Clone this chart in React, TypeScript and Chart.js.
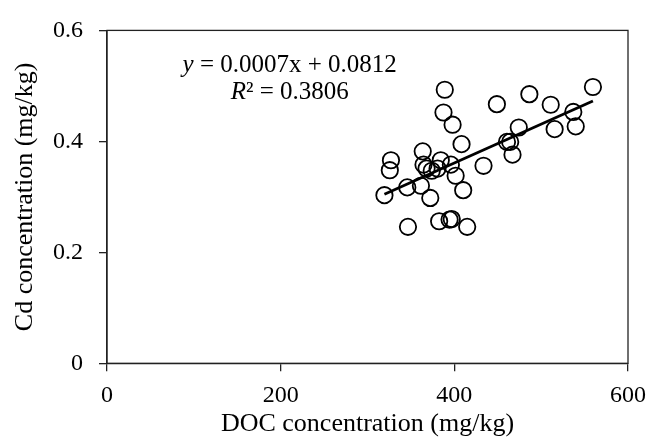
import React, { useEffect, useRef } from 'react';
import { Chart, registerables } from 'chart.js';

Chart.register(...registerables);

const docValues = [
  319.5, 325.7, 327, 345.8, 346.6, 361.5, 363.6, 364.5, 368, 372.3,
  374, 380.7, 382.5, 384.4, 387.5, 389, 394.5, 397, 396, 398,
  401.5, 408.3, 410.2, 414.8, 433.6, 449, 460.6, 464.3, 467, 474.2,
  486.4, 511, 515.5, 537, 539.8, 559.6,
];
const cdValues = [
  0.303, 0.348, 0.366, 0.317, 0.246, 0.32, 0.382, 0.358, 0.351, 0.298,
  0.347, 0.351, 0.256, 0.366, 0.452, 0.493, 0.259, 0.26, 0.358, 0.43,
  0.338, 0.395, 0.312, 0.246, 0.356, 0.467, 0.399, 0.399, 0.376, 0.425,
  0.485, 0.466, 0.422, 0.453, 0.427, 0.498,
];
const xTicks = [0, 200, 400, 600];
const yTicks = [0, 0.2, 0.4, 0.6];
const slope = 0.0007;
const intercept = 0.0812;
const rSquared = 0.3806;
const xTitle = 'DOC concentration (mg/kg)';
const yTitle = 'Cd concentration (mg/kg)';

const FONT = "'Liberation Serif', 'Times New Roman', serif";

export default function App() {
  const ref = useRef<HTMLCanvasElement | null>(null);

  useEffect(() => {
    if (!ref.current) return;
    const xMin = Math.min(...docValues);
    const xMax = Math.max(...docValues);
    const trend = [
      { x: xMin, y: slope * xMin + intercept },
      { x: xMax, y: slope * xMax + intercept },
    ];
    const points = docValues.map((x, i) => ({ x, y: cdValues[i] }));

    const boxPlugin = {
      id: 'boxPlugin',
      beforeDatasetsDraw(chart: any) {
        const { ctx, chartArea } = chart;
        ctx.save();
        ctx.strokeStyle = '#222';
        ctx.lineWidth = 1.3;
        ctx.strokeRect(chartArea.left, chartArea.top, chartArea.right - chartArea.left, chartArea.bottom - chartArea.top);
        ctx.restore();
      },
    };

    const eqPlugin = {
      id: 'eqPlugin',
      afterDatasetsDraw(chart: any) {
        const { ctx, chartArea } = chart;
        const w = chartArea.right - chartArea.left;
        const h = chartArea.bottom - chartArea.top;
        const cx = chartArea.left + w * 0.3507;
        const lines = [
          { y: chartArea.top + h * 0.105, parts: [
            { t: 'y', it: true },
            { t: ` = ${slope.toFixed(4)}x + ${intercept.toFixed(4)}`, it: false },
          ] },
          { y: chartArea.top + h * 0.1875, parts: [
            { t: 'R', it: true },
            { t: '²', it: false },
            { t: ` = ${rSquared.toFixed(4)}`, it: false },
          ] },
        ];
        ctx.save();
        ctx.fillStyle = '#000';
        ctx.textBaseline = 'middle';
        ctx.textAlign = 'left';
        for (const line of lines) {
          let total = 0;
          for (const p of line.parts) {
            ctx.font = `${p.it ? 'italic ' : ''}25px ${FONT}`;
            total += ctx.measureText(p.t).width;
          }
          let x = cx - total / 2;
          for (const p of line.parts) {
            ctx.font = `${p.it ? 'italic ' : ''}25px ${FONT}`;
            ctx.fillText(p.t, x, line.y);
            x += ctx.measureText(p.t).width;
          }
        }
        ctx.restore();
      },
    };

    const chart = new Chart(ref.current, {
      type: 'scatter',
      data: {
        datasets: [
          {
            type: 'line',
            data: trend,
            borderColor: '#000',
            borderWidth: 2.8,
            pointRadius: 0,
            fill: false,
          } as any,
          {
            data: points,
            pointStyle: 'circle',
            pointRadius: 8.2,
            pointBorderWidth: 1.8,
            borderColor: '#000',
            backgroundColor: 'rgba(0,0,0,0)',
            pointBackgroundColor: 'rgba(0,0,0,0)',
          },
        ],
      },
      plugins: [boxPlugin, eqPlugin],
      options: {
        animation: false,
        responsive: false,
        devicePixelRatio: 1,
        layout: { padding: { left: 0, right: 21.5, top: 25.7, bottom: 0 } },
        plugins: { legend: { display: false }, tooltip: { enabled: false } },
        scales: {
          x: {
            type: 'linear',
            min: 0,
            max: 600,
            afterBuildTicks: (s: any) => { s.ticks = xTicks.map((v) => ({ value: v })); },
            afterFit: (s: any) => { s.height = 73.7; },
            grid: { display: true, drawOnChartArea: false, drawTicks: true, tickLength: 8, color: '#222', lineWidth: 1.3 },
            border: { display: true, color: '#222', width: 1.3 },
            ticks: { color: '#000', font: { family: FONT, size: 24 }, padding: 10, maxRotation: 0, callback: (v: any) => String(v) },
            title: { display: true, text: xTitle, color: '#000', font: { family: FONT, size: 26, lineHeight: 1 }, padding: { top: 0, bottom: 0 } },
          },
          y: {
            type: 'linear',
            min: 0,
            max: 0.6,
            afterBuildTicks: (s: any) => { s.ticks = yTicks.map((v) => ({ value: v })); },
            afterFit: (s: any) => { s.width = 107; },
            grid: { display: true, drawOnChartArea: false, drawTicks: true, tickLength: 8, color: '#222', lineWidth: 1.3 },
            border: { display: true, color: '#222', width: 1.3 },
            ticks: { color: '#000', font: { family: FONT, size: 24 }, padding: 16, callback: (v: any) => String(Math.round(v * 10) / 10) },
            title: { display: true, text: yTitle, color: '#000', font: { family: FONT, size: 26, lineHeight: 1 }, padding: { top: 12, bottom: 0 } },
          },
        },
      },
    });
    return () => chart.destroy();
  }, []);

  return (
    <div style={{ position: 'absolute', left: 0, top: 0, width: 656, height: 437, background: '#fff' }}>
      <canvas ref={ref} width={656} height={437} style={{ width: 656, height: 437, display: 'block' }} />
    </div>
  );
}
